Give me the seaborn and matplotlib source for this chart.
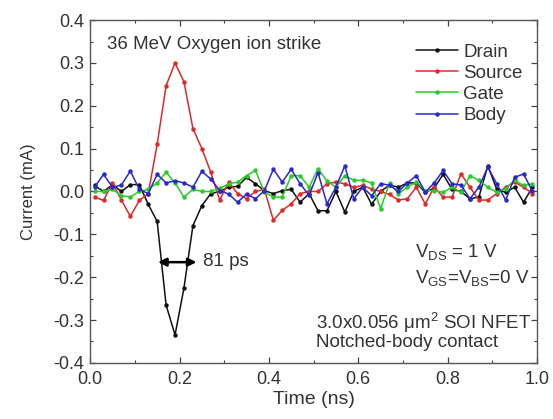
import numpy as np
import pandas as pd
import matplotlib
matplotlib.use("Agg")
import matplotlib.pyplot as plt
from matplotlib.ticker import MultipleLocator, FormatStrFormatter
import seaborn as sns

# Time samples (ns)
time = [round(0.01 + 0.02 * k, 2) for k in range(50)]

drain = [0.014, 0.0, 0.016, 0.0, 0.016, 0.016, -0.03, -0.07, -0.265, -0.335,
         -0.225, -0.08, -0.033, -0.005, 0.0, 0.01, 0.012, 0.033, 0.018, 0.002,
         -0.005, 0.002, 0.005, -0.025, -0.005, -0.045, -0.045, 0.0, -0.048, 0.0,
         0.01, -0.03, 0.0, 0.015, 0.01, 0.02, 0.02, -0.002, 0.008, 0.04,
         0.005, 0.0, -0.017, -0.013, 0.06, 0.005, -0.002, 0.01, -0.025, 0.01]
source = [-0.013, -0.021, 0.02, -0.02, -0.058, -0.021, -0.005, 0.11, 0.247, 0.30,
          0.256, 0.147, 0.10, 0.045, -0.02, 0.022, -0.005, -0.017, 0.0, 0.005,
          -0.067, -0.044, -0.029, -0.005, 0.0, 0.0, 0.018, 0.022, 0.018, 0.01,
          0.014, 0.006, 0.0, -0.007, -0.02, -0.017, 0.01, -0.029, 0.01, -0.013,
          -0.013, 0.041, 0.01, -0.02, -0.02, -0.005, 0.01, 0.022, 0.01, -0.005]
gate = [0.0, 0.0, 0.005, -0.01, -0.013, 0.0, 0.005, 0.02, 0.045, 0.02,
        -0.013, 0.005, 0.0, 0.0, 0.007, 0.018, 0.022, 0.037, 0.049, -0.002,
        -0.013, -0.013, 0.037, 0.037, 0.01, 0.053, 0.025, 0.01, 0.037, 0.026,
        0.026, 0.02, -0.04, 0.02, -0.005, 0.01, 0.022, 0.002, 0.002, -0.002,
        0.01, -0.002, 0.037, 0.026, 0.01, -0.002, 0.006, 0.026, 0.014, 0.018]
body = [0.01, 0.04, 0.01, 0.015, 0.048, 0.005, -0.005, 0.04, 0.02, 0.025,
        0.02, 0.01, 0.047, 0.029, 0.002, -0.006, -0.025, -0.006, -0.017, 0.002,
        0.052, 0.022, 0.052, 0.018, -0.009, 0.044, -0.029, 0.01, 0.06, -0.017,
        0.01, -0.01, 0.018, 0.015, 0.0, 0.02, 0.037, -0.002, 0.02, 0.049,
        0.018, 0.015, -0.017, 0.01, 0.057, 0.018, -0.02, 0.033, 0.041, 0.0]

series_names = ["Drain", "Source", "Gate", "Body"]
colors = ["#111111", "#e02828", "#28cc28", "#2828d0"]

df = pd.concat([
    pd.DataFrame({"Time": time, "Current": vals, "Terminal": name})
    for name, vals in zip(series_names, [drain, source, gate, body])
], ignore_index=True)

sns.set_theme(style="ticks")
plt.rcParams["font.family"] = ["Liberation Sans", "DejaVu Sans"]
plt.rcParams["mathtext.fontset"] = "custom"
plt.rcParams["mathtext.rm"] = "Liberation Sans"
plt.rcParams["mathtext.it"] = "Liberation Sans:italic"

fig = plt.figure(figsize=(5.53, 4.19), dpi=100)
ax = fig.add_axes([0.163, 0.134, 0.808, 0.818])

sns.lineplot(data=df, x="Time", y="Current", hue="Terminal",
             hue_order=series_names, palette=colors, marker="o",
             markersize=3.2, markeredgewidth=0, linewidth=1.1, ax=ax,
             estimator=None, sort=False)

ax.set_xlim(0, 1.0)
ax.set_ylim(-0.4, 0.4)
ax.xaxis.set_major_locator(MultipleLocator(0.2))
ax.xaxis.set_minor_locator(MultipleLocator(0.1))
ax.yaxis.set_major_locator(MultipleLocator(0.1))
ax.yaxis.set_minor_locator(MultipleLocator(0.05))
ax.xaxis.set_major_formatter(FormatStrFormatter("%.1f"))
ax.yaxis.set_major_formatter(FormatStrFormatter("%.1f"))
ax.tick_params(which="both", direction="in", top=True, right=True,
               colors="#444444", labelcolor="#333333", labelsize=13)
ax.tick_params(which="major", length=4, width=0.9)
ax.tick_params(which="minor", length=2.5, width=0.8)
ax.tick_params(axis="x", which="major", pad=6)
ax.tick_params(axis="y", which="major", pad=4)
for sp in ax.spines.values():
    sp.set_color("#555555")
    sp.set_linewidth(1.0)

ax.set_xlabel("Time (ns)", fontsize=14, color="#333333", labelpad=2)
ax.set_ylabel("Current (mA)", fontsize=12, color="#333333", labelpad=13)

leg = ax.legend(frameon=False, loc="upper right", fontsize=13.5,
                handlelength=2.2, handletextpad=0.3, labelspacing=0.22,
                borderaxespad=0, borderpad=0, bbox_to_anchor=(0.968, 0.932))
for t in leg.get_texts():
    t.set_color("#333333")

txt_kw = dict(color="#333333", fontsize=13.5)
ax.text(0.038, 0.344, "36 MeV Oxygen ion strike", va="center", **txt_kw)
ax.annotate("", xy=(0.152, -0.165), xytext=(0.238, -0.165),
            arrowprops=dict(arrowstyle="<|-|>", lw=1.8, color="black",
                            mutation_scale=12, shrinkA=0, shrinkB=0))
ax.text(0.252, -0.163, "81 ps", va="center", **txt_kw)
ax.text(0.727, -0.142, r"V$_{\rm DS}$ = 1 V", va="center", **txt_kw)
ax.text(0.727, -0.202, r"V$_{\rm GS}$=V$_{\rm BS}$=0 V", va="center", **txt_kw)
ax.text(0.505, -0.307, "3.0x0.056 \u03bcm$^{2}$ SOI NFET", va="center", **txt_kw)
ax.text(0.505, -0.353, "Notched-body contact", va="center", **txt_kw)

fig.savefig("out.png", dpi=100)
